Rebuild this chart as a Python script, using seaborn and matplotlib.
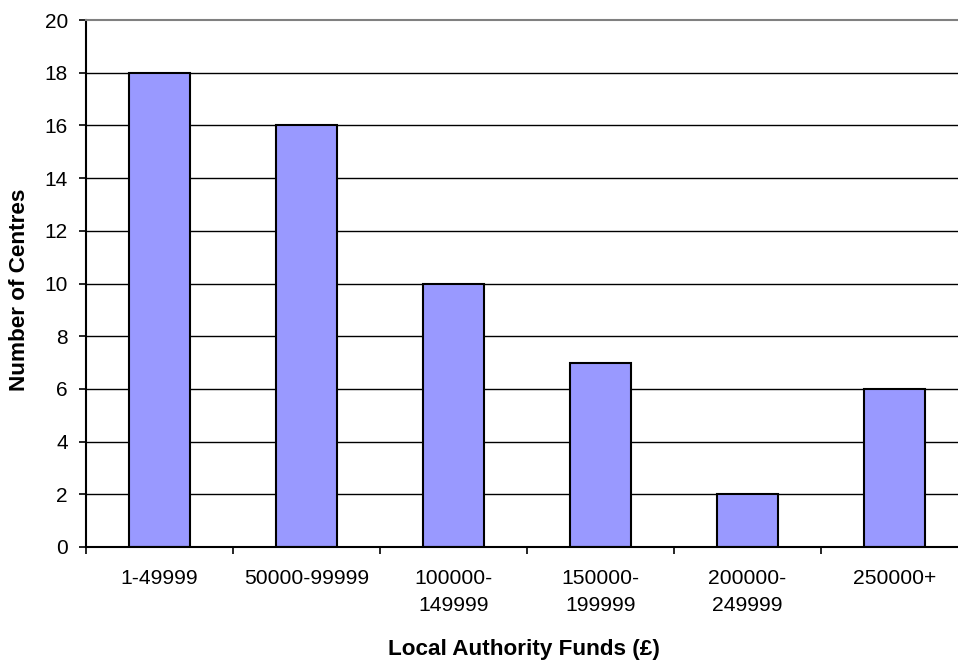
import matplotlib
matplotlib.use("Agg")
import matplotlib.pyplot as plt
import seaborn as sns
import pandas as pd
import numpy as np

# Centres grouped by local authority funding band
categories = ["1-49999", "50000-99999", "100000-\n149999", "150000-\n199999",
              "200000-\n249999", "250000+"]
centres = [18, 16, 10, 7, 2, 6]
y_ticks = [0, 2, 4, 6, 8, 10, 12, 14, 16, 18, 20]

df = pd.DataFrame({"band": categories, "centres": centres})

sns.set_theme(style="white")
plt.rcParams["font.family"] = ["Liberation Sans", "DejaVu Sans"]
plt.rcParams["text.color"] = "black"
plt.rcParams["axes.labelcolor"] = "black"
plt.rcParams["xtick.color"] = "black"
plt.rcParams["ytick.color"] = "black"

fig = plt.figure(figsize=(9.58, 6.64), dpi=100)
ax = fig.add_axes([86 / 958, 1 - 547 / 664, 882 / 958, 527 / 664])

sns.barplot(data=df, x="band", y="centres", ax=ax, color="#9999FF",
            saturation=1, width=0.41, edgecolor="black", linewidth=1.5)

ax.set_xlim(-0.5, len(categories) - 0.5)
ax.set_ylim(0, 20)
ax.set_yticks(y_ticks)
ax.set_yticklabels([str(v) for v in y_ticks])

# horizontal gridlines behind the bars
ax.set_axisbelow(True)
for v in y_ticks[1:-1]:
    ax.axhline(v, color="black", lw=1.0, zorder=0)

# category labels centred, tick marks on the band boundaries
ax.set_xticks(range(len(categories)))
ax.set_xticklabels(categories, fontsize=15.2, linespacing=1.5)
ax.set_xticks(np.arange(-0.5, len(categories) + 0.5, 1), minor=True)
ax.tick_params(axis="x", which="major", length=0, pad=16, labelcolor="black")
ax.tick_params(axis="x", which="minor", length=5, width=1.2, color="black",
               direction="out", bottom=True)
ax.tick_params(axis="y", length=5, width=1.2, color="black", direction="out",
               left=True, pad=8, labelsize=15, labelcolor="black")

for side in ["left", "bottom"]:
    ax.spines[side].set_color("black")
    ax.spines[side].set_linewidth(1.5)
ax.spines["top"].set_color("#808080")
ax.spines["top"].set_linewidth(1.5)
ax.spines["right"].set_color("#808080")

ax.set_xlabel("Local Authority Funds (£)", fontsize=16.2, fontweight="bold",
              va="center", color="black")
ax.set_ylabel("Number of Centres", fontsize=16.2, fontweight="bold",
              color="black")
ax.xaxis.set_label_coords((524 - 86) / 882, -(650 - 547) / 527)
ax.yaxis.set_label_coords(-(86 - 30) / 882, (547 - 290) / 527)

fig.savefig("out.png", dpi=100)
